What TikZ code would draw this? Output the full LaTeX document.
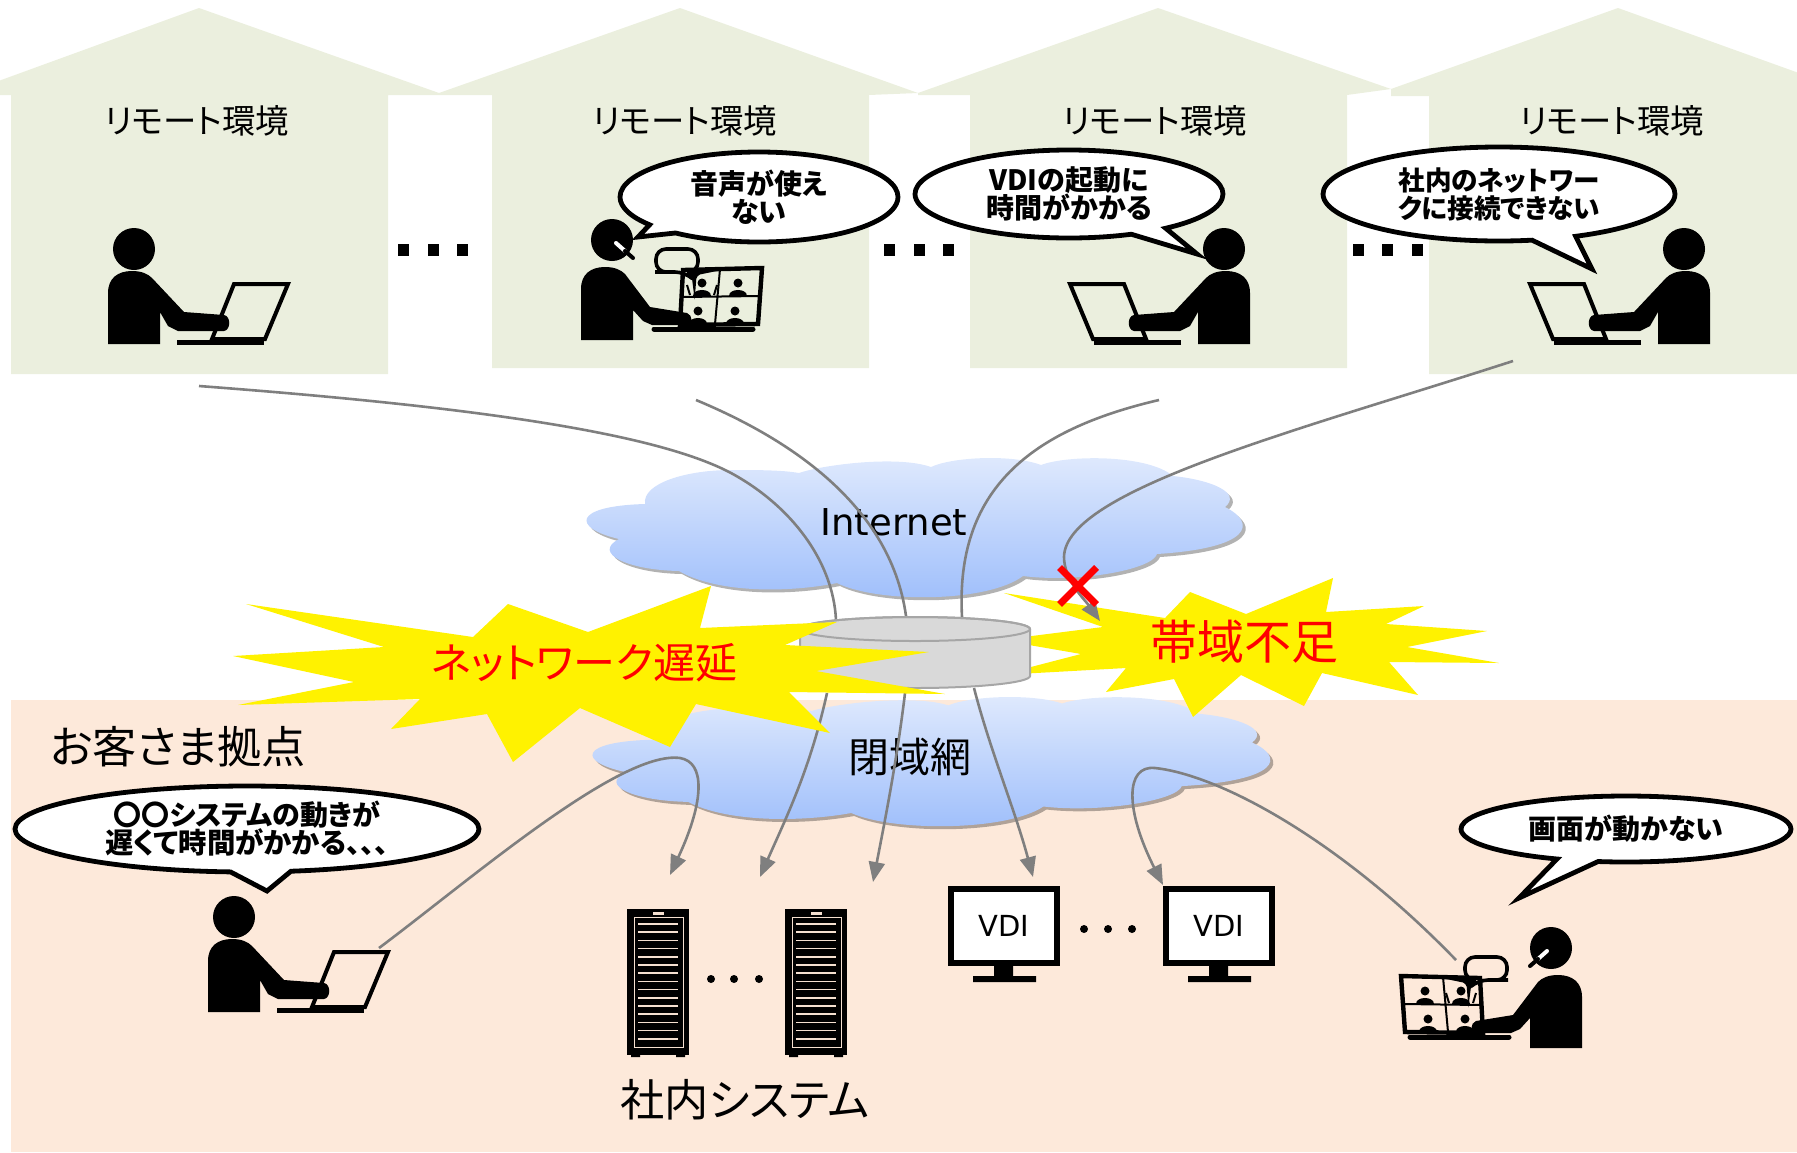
\documentclass[tikz,border=0pt]{standalone}
\usepackage{fontspec}
\setmainfont[RawFeature=+palt]{Noto Sans CJK JP}
\newfontfamily\latinfont{DejaVu Sans}
\usetikzlibrary{arrows.meta,shapes.callouts,shapes.misc,shadows}
\definecolor{homegreen}{HTML}{EBEFDE}
\definecolor{officepeach}{HTML}{FDE9DA}
\definecolor{linkgray}{HTML}{7F7F7F}
\definecolor{dbgray}{HTML}{D9D9D9}
\definecolor{dbedge}{HTML}{A6A6A6}
\definecolor{cloudtop}{HTML}{E0EAFD}
\definecolor{cloudbottom}{HTML}{9EBEFB}
\definecolor{rackline}{HTML}{F5E0D0}
\newcommand{\pxfont}[2]{\fontsize{#1}{#2}\selectfont}
\tikzset{
    house/.style={fill=homegreen},
    homelabel/.style={font=\pxfont{16.7}{20}},
    bigtext/.style={font=\pxfont{22.1}{26}},
    bubble/.style={ellipse callout, draw, fill=white, line width=2.4pt, inner sep=0pt, align=center, font=\bfseries\pxfont{14}{14}},
    link/.style={draw=linkgray, line width=1.3pt},
    linkarrow/.style={link, -{Triangle[length=10pt,width=8pt]}},
    burst/.style={fill=yellow},
    sqdot/.style={fill=black, minimum width=5.5pt, minimum height=6pt, inner sep=0pt},
    rounddot/.style={fill=black, circle, minimum size=4pt, inner sep=0pt},
    screen/.style={draw, line width=3pt, fill=white, minimum width=53pt, minimum height=37pt, inner sep=0pt, font=\latinfont\pxfont{14.5}{16}},
    pics/person/.style={code={
        \fill (26,-95) circle (21);
        \draw[line width=2pt] (126,-60) -- (180,-60) -- (157,-5) -- (104,-5) -- cycle;
        \draw[line width=2.5pt] (69,-2) -- (156,-2);
        \fill (0,0) -- (0,-51) .. controls (0,-66) and (10,-73) .. (24,-73) .. controls (34,-73) and (40,-70) .. (44,-66)
            -- (76,-32) -- (116,-29) .. controls (123,-28) and (123,-14) .. (116,-13) -- (70,-13) -- (60,-18) -- (52,-32) -- (52,0) -- cycle;
    }},
    pics/minicam/.style={code={
        \fill (0,-13) circle (4.5);
        \fill (-9,0) .. controls (-9,-8) and (9,-8) .. (9,0) -- cycle;
    }},
    pics/meeting/.style={code={
        \fill (31,-100) circle (21);
        \draw[white, line width=2pt, line cap=round] (35,-97) -- (44,-89);
        \draw[line width=2pt, line cap=round] (44,-89) -- (52,-82);
        \draw[line width=2.2pt] (102,-70) -- (181,-72) -- (177,-16) -- (99,-15) -- cycle;
        \draw[line width=1pt] (139,-71) -- (134,-16) (101,-43) -- (179,-44);
        \pic at (121,-44) {minicam};
        \draw[line width=1pt] (106,-55) -- (109,-45) (136,-55) -- (133,-45);
        \pic at (157,-44) {minicam};
        \pic at (117,-16) {minicam};
        \pic at (154,-16) {minicam};
        \draw[line width=2.5pt, line cap=round] (73,-11) -- (172,-11);
        \draw[line width=1.8pt, rounded corners=5pt] (84,-68) -- (75,-68) -- (75,-91) -- (117,-91) -- (117,-68) -- (112,-68) -- (113,-60) -- (104,-68) -- cycle;
        \fill (0,0) -- (0,-51) .. controls (0,-66) and (10,-73) .. (24,-73) .. controls (34,-73) and (40,-70) .. (44,-66)
            -- (69,-33) -- (106,-27) .. controls (112,-25) and (112,-15) .. (106,-15) -- (71,-15) -- (62,-19) -- (52,-30) -- (52,0) -- cycle;
    }},
    pics/rack/.style={code={
        \fill (0,0) rectangle (62,146);
        \fill (4,146) rectangle (13,148) (49,146) rectangle (58,148);
        \draw[rackline, line width=0.5pt] (7,8) rectangle (56,138);
        \fill[rackline] (26,3) rectangle (37,5.5);
        \foreach \y in {15,23.2,...,131} {
            \draw[rackline, line width=0.8pt] (11,\y) -- (51,\y);
        }
    }},
    pics/cloudshape/.style={code={
        \path[top color=cloudtop, bottom color=cloudbottom, drop shadow={shadow xshift=1.5pt, shadow yshift=-1.5pt, fill=black, opacity=0.3}]
            (58,46) .. controls (55,25) and (100,12) .. (144,12) .. controls (170,12) and (195,12) .. (212,15)
            .. controls (235,7) and (310,-3) .. (344,9) .. controls (365,-1) and (425,-4) .. (454,7)
            .. controls (480,-3) and (560,-4) .. (586,18) .. controls (625,22) and (655,35) .. (638,49)
            .. controls (670,65) and (665,90) .. (570,96) .. controls (565,112) and (490,125) .. (436,118)
            .. controls (400,145) and (290,145) .. (250,125) .. controls (200,135) and (130,135) .. (92,113)
            .. controls (40,112) and (5,95) .. (32,81) .. controls (-15,70) and (-15,48) .. (58,46) -- cycle;
    }},
}
\begin{document}
\begin{tikzpicture}[x=0.5pt, y=-0.5pt]
    \useasboundingbox (0,0) rectangle (1797,1152);
    \clip (0,0) rectangle (1797,1152);

    \fill[house] (-40,95) -- (199,8) -- (439,93) -- (439,95) -- (388,95) -- (388,374) -- (11,374) -- (11,95) -- cycle;
    \fill[house] (439,93) -- (680,8) -- (918,93) -- (869,95) -- (869,368) -- (492,368) -- (492,95) -- (439,95) -- cycle;
    \fill[house] (918,93) -- (1158,8) -- (1391,89) -- (1347,95) -- (1347,368) -- (970,368) -- (970,95) -- (918,95) -- cycle;
    \fill[house] (1391,89) -- (1618,8) -- (1860,95) -- (1797,374) -- (1429,374) -- (1429,96) -- (1391,96) -- cycle;
    \fill[officepeach] (11,700) rectangle (1797,1152);

    \node[homelabel] (homea) at (197,121) {リモート環境};
    \node[homelabel] (homeb) at (685,121) {リモート環境};
    \node[homelabel] (homec) at (1155,121) {リモート環境};
    \node[homelabel] (homed) at (1612,121) {リモート環境};
    \foreach \x in {403,433,462,889,919,948,1358,1387,1417}
        \node[sqdot] (dot\x) at (\x,250) {};

    \pic at (587,458) {cloudshape};
    \pic[xscale=1.033, yscale=0.928] at (593,697) {cloudshape};
    \node[font=\latinfont\pxfont{18.5}{20}] (internet) at (894,522) {Internet};
    \node[font=\pxfont{20.5}{24}] (closednet) at (910,757) {閉域網};

    \pic at (108,344) {person};
    \pic at (581,340) {meeting};
    \pic[xscale=-1] at (1250,344) {person};
    \pic[xscale=-1] at (1710,344) {person};
    \pic at (208,1012) {person};
    \pic[xscale=-1] at (1582,1048) {meeting};

    \pic at (627,909) {rack};
    \pic at (785,909) {rack};
    \foreach \x in {711,734,759}
        \node[rounddot] (rackdot\x) at (\x,979) {};
    \node[screen] (vdia) at (1004,926) {VDI};
    \node[screen] (vdib) at (1219,926) {VDI};
    \fill (994,966) rectangle (1013,976) (973,976) rectangle (1036,982);
    \fill (1209,966) rectangle (1228,976) (1188,976) rectangle (1251,982);
    \foreach \x in {1084,1108,1132}
        \node[rounddot] (vdidot\x) at (\x,929) {};
    \node[bigtext] (office) at (178,747) {お客さま拠点};
    \node[bigtext] (insys) at (745,1100) {社内システム};

    \coordinate (froma) at (199,386);
    \coordinate (fromb) at (696,400);
    \coordinate (fromc) at (1159,400);
    \coordinate (fromd) at (1513,361);
    \coordinate (dbina) at (836,620);
    \coordinate (dbinb) at (906,616);
    \coordinate (dbinc) at (962,617);
    \coordinate (dbouta) at (827,693);
    \coordinate (dboutb) at (905,693);
    \coordinate (dboutc) at (974,688);
    \coordinate (sysa) at (670,875);
    \coordinate (sysb) at (760,877);
    \coordinate (sysc) at (873,882);
    \coordinate (sysd) at (1033,877);
    \coordinate (syse) at (1163,885);
    \coordinate (pca) at (379,948);
    \coordinate (pcb) at (1456,960);
    \coordinate (lost) at (1100,621);

    \draw[link] (froma) .. controls (450,405) and (650,430) .. (731,473) .. controls (790,505) and (833,560) .. (dbina);
    \draw[link] (fromb) .. controls (780,435) and (890,500) .. (dbinb);
    \draw[link] (fromc) .. controls (1030,430) and (955,490) .. (dbinc);
    \draw[linkarrow] (dbouta) .. controls (810,770) and (785,820) .. (sysb);
    \draw[linkarrow] (dboutb) .. controls (897,760) and (885,820) .. (sysc);
    \draw[linkarrow] (dboutc) .. controls (990,750) and (1015,810) .. (sysd);
    \draw[linkarrow] (pca) .. controls (470,880) and (620,750) .. (680,758) .. controls (705,762) and (705,800) .. (sysa);
    \draw[linkarrow] (pcb) .. controls (1340,840) and (1220,775) .. (1155,768) .. controls (1125,765) and (1125,810) .. (syse);

    \fill[burst] (1004,593) -- (1103,627) -- (1000,640) -- (1081,654) -- (1000,675) -- (1126,668) -- (1106,692)
        -- (1174,679) -- (1193,717) -- (1241,675) -- (1304,706) -- (1322,673) -- (1418,695) -- (1389,662)
        -- (1499,663) -- (1407,647) -- (1487,631) -- (1386,624) -- (1424,606) -- (1326,612) -- (1333,578)
        -- (1246,614) -- (1190,592) -- (1165,618) -- cycle;
    \draw[linkarrow] (fromd) .. controls (1300,430) and (1065,490) .. (1064,557) .. controls (1064,580) and (1085,600) .. (lost);
    \draw[draw=dbedge, fill=dbgray, line width=1pt] (800,629) -- (800,676) arc[x radius=115, y radius=12, start angle=180, end angle=0]
        -- (1030,629) arc[x radius=115, y radius=12, start angle=0, end angle=-180] -- cycle;
    \draw[dbedge, line width=1pt] (915,629) ellipse (115 and 12);
    \fill[burst] (233,656) -- (384,647) -- (246,604) -- (473,637) -- (508,604) -- (588,632) -- (711,586) -- (700,628)
        -- (837,622) -- (785,645) -- (929,652) -- (816,671) -- (945,694) -- (789,692) -- (830,733) -- (696,704)
        -- (670,747) -- (580,708) -- (513,762) -- (487,714) -- (391,729) -- (420,699) -- (238,705) -- (354,682) -- cycle;
    \node[cross out, draw=red, line width=3.5pt, minimum size=15pt, inner sep=0pt] (ngmark) at (1078,586) {};
    \node[text=red, font=\pxfont{21}{24}] (delay) at (584,663) {ネットワーク遅延};
    \node[text=red, font=\pxfont{23.5}{26}] (shortage) at (1244,642) {帯域不足};

    \node[bubble, minimum width=139pt, minimum height=45pt, callout absolute pointer={(638,237)}] (saya) at (759,197) {音声が使え\\ない};
    \node[bubble, minimum width=154pt, minimum height=44pt, callout absolute pointer={(1197,254)}] (sayb) at (1069,194) {VDIの起動に\\時間がかかる};
    \node[bubble, minimum width=176pt, minimum height=47pt, callout absolute pointer={(1592,269)}] (sayc) at (1499,194) {\pxfont{13.3}{14}社内のネットワー\\\pxfont{13.3}{14}クに接続できない};
    \node[bubble, minimum width=232pt, minimum height=43pt, callout absolute pointer={(267,891)}] (sayd) at (247,829) {〇〇システムの動きが\\{\pxfont{14.2}{14}遅くて時間がかかる、、、}};
    \node[bubble, minimum width=165pt, minimum height=33pt, callout absolute pointer={(1519,898)}] (saye) at (1626,829) {画面が動かない};
\end{tikzpicture}
\end{document}
